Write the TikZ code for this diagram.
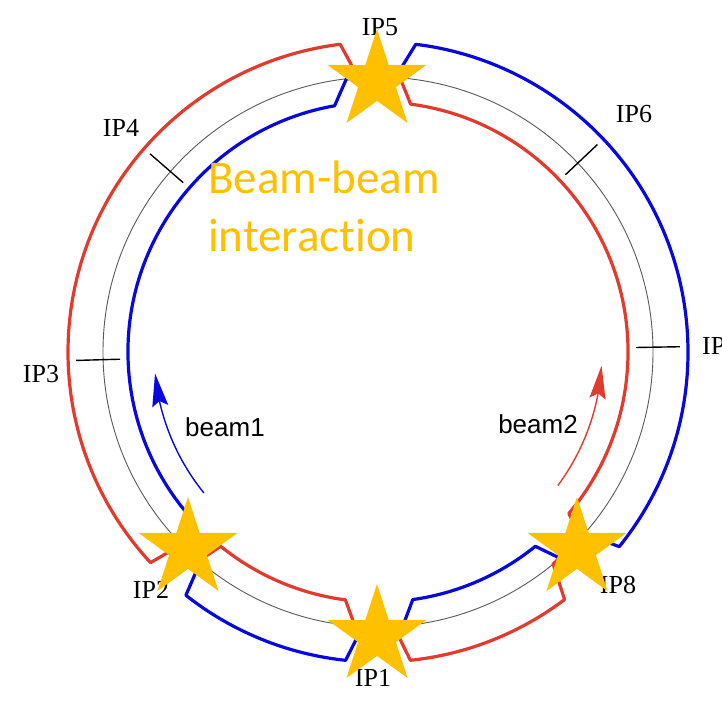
\documentclass[tikz,border=0pt]{standalone}
\usepackage{fontspec}
\setmainfont{Liberation Serif}
\setsansfont{Liberation Sans}
\newfontfamily\calibfont[Ligatures={NoCommon,NoRare,NoDiscretionary}]{Carlito}
\usetikzlibrary{shapes.geometric,arrows.meta,bending}
\definecolor{ringred}{RGB}{226,58,44}
\definecolor{ringblue}{RGB}{8,8,222}
\definecolor{gold}{RGB}{255,192,0}
\definecolor{thingray}{RGB}{90,90,90}
\begin{document}
\begin{tikzpicture}[x=1pt,y=1pt,
  redbeam/.style={ringred, line width=3.2pt, line join=round},
  bluebeam/.style={ringblue, line width=3.2pt, line join=round},
  refline/.style={thingray, line width=0.9pt},
  ipmark/.style={black, line width=1.4pt},
  iplabel/.style={font=\fontsize{26}{30}\selectfont, inner sep=0pt},
  ipstar/.style={star, star points=5, star point ratio=2.618, minimum size=104pt, inner sep=0pt, fill=gold, draw=none},
  beamlabel/.style={font=\sffamily\fontsize{26}{30}\selectfont, inner sep=0pt, anchor=base},
  bbtext/.style={text=gold, font=\calibfont\fontsize{47}{56}\selectfont, inner sep=0pt, anchor=base west},
  beamarrow/.style={line width=1.4pt, -{Stealth[length=33pt,width=16pt,inset=5pt]}},
]
\useasboundingbox (-378,-349) rectangle (344,352);
\clip (-378,-349) rectangle (344,352);
\fill[white] (-378,-349) rectangle (344,352);

% reference orbit
\draw[refline] (0,0) circle[radius=275];

% beam 2 (red)
\draw[redbeam] (82.5:250) arc[start angle=82.5, end angle=-40.2, radius=250]
  -- (-42.76:275) -- (-50.44:275) -- (-53:310)
  arc[start angle=-53, end angle=-84, radius=310]
  -- (-86.7:275) -- (-94.8:275) -- (-97.5:250)
  arc[start angle=-97.5, end angle=-129, radius=250]
  -- (-130.64:275) -- (-135.56:275) -- (-137.2:310)
  arc[start angle=-137.2, end angle=-263, radius=310]
  -- (-265.9:275) -- (-274.6:275) -- cycle;

% beam 1 (blue)
\draw[bluebeam] (100:250) arc[start angle=100, end angle=222, radius=250]
  -- (223.94:275) -- (229.76:275) -- (231.7:310)
  arc[start angle=231.7, end angle=264, radius=310]
  -- (266.8:275) -- (275.2:275) -- (278:250)
  arc[start angle=278, end angle=309, radius=250]
  -- (311.42:275) -- (318.68:275) -- (321.1:310)
  arc[start angle=321.1, end angle=443, radius=310]
  -- (446.4:275) -- (456.6:275) -- cycle;

% IP ticks
\draw[ipmark] (139:258) -- (139:302);
\draw[ipmark] (43.4:258) -- (43.4:302);
\draw[ipmark] (181.6:258) -- (181.6:302);
\draw[ipmark] (1:258) -- (1:302);

% direction arrows
\draw[beamarrow, ringblue] (219:224) arc[start angle=219, end angle=185.5, radius=224];
\draw[beamarrow, ringred] (-36.6:224) arc[start angle=-36.6, end angle=-3.5, radius=224];

% labels
\node[iplabel] (ip5) at (2,325) {IP5};
\node[iplabel] (ip1) at (-5,-326) {IP1};
\node[iplabel] (ip2) at (-227,-238) {IP2};
\node[iplabel] (ip8) at (240,-233) {IP8};
\node[iplabel] (ip4) at (-257,224) {IP4};
\node[iplabel] (ip6) at (256,238) {IP6};
\node[iplabel] (ip3) at (-337,-22) {IP3};
\node[iplabel, anchor=west] (ip7) at (324,6) {IP7};

\node[beamlabel] (b1) at (-153,-84) {beam1};
\node[beamlabel] (b2) at (160,-81) {beam2};

% interaction stars
\node[ipstar] (s5) at (-1,271) {};
\node[ipstar] (s1) at (-1,-284) {};
\node[ipstar] (s2) at (-190,-197) {};
\node[ipstar] (s8) at (199,-197) {};

\node[bbtext] (bb1) at (-170,158) {Beam-beam};
\node[bbtext] (bb2) at (-170,100) {interaction};
\end{tikzpicture}
\end{document}
